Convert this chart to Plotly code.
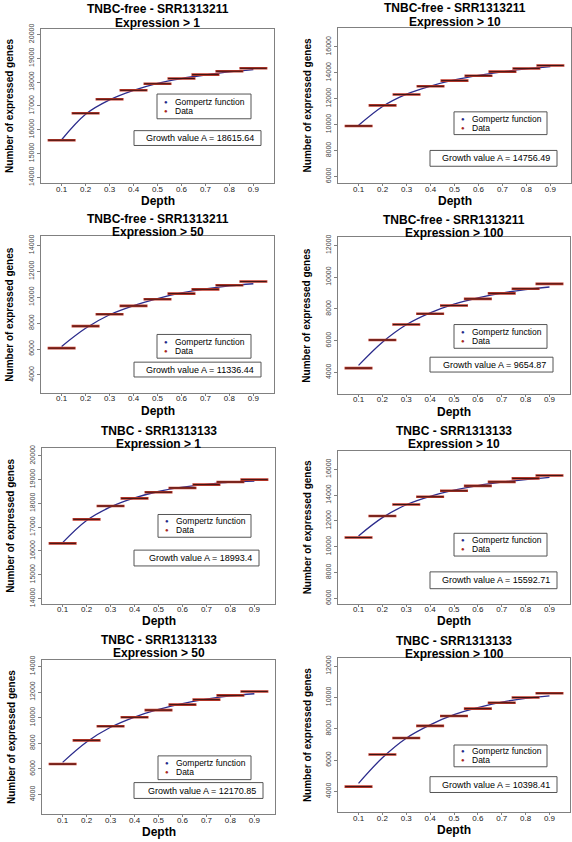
import plotly.graph_objects as go

W, H = 572, 842

depth = [0.1, 0.2, 0.3, 0.4, 0.5, 0.6, 0.7, 0.8, 0.9]
depth_labels = ["0.1", "0.2", "0.3", "0.4", "0.5", "0.6", "0.7", "0.8", "0.9"]

sample_titles = ["TNBC-free - SRR1313211", "TNBC-free - SRR1313211",
                 "TNBC-free - SRR1313211", "TNBC-free - SRR1313211",
                 "TNBC - SRR1313133", "TNBC - SRR1313133",
                 "TNBC - SRR1313133", "TNBC - SRR1313133"]
expr_titles = ["Expression > 1", "Expression > 10", "Expression > 50", "Expression > 100",
               "Expression > 1", "Expression > 10", "Expression > 50", "Expression > 100"]
growth_A = ["18615.64", "14756.49", "11336.44", "9654.87",
            "18993.4", "15592.71", "12170.85", "10398.41"]

data_p1 = [15560, 16690, 17280, 17655, 17930, 18150, 18315, 18455, 18580]
fit_p1 = [15580, 16650, 17250, 17650, 17950, 18150, 18300, 18430, 18525]
data_p2 = [9900, 11490, 12330, 12960, 13400, 13780, 14090, 14340, 14570]
fit_p2 = [9950, 11400, 12350, 12980, 13450, 13800, 14080, 14300, 14480]
data_p3 = [6070, 7770, 8690, 9330, 9850, 10280, 10610, 10920, 11210]
fit_p3 = [6200, 7600, 8650, 9350, 9900, 10330, 10650, 10880, 11040]
data_p4 = [4270, 6040, 7020, 7690, 8210, 8630, 8980, 9270, 9580]
fit_p4 = [4440, 5900, 7000, 7750, 8300, 8700, 9000, 9220, 9380]
data_p5 = [16320, 17330, 17890, 18210, 18470, 18650, 18790, 18900, 19000]
fit_p5 = [16350, 17280, 17850, 18230, 18500, 18680, 18800, 18890, 18935]
data_p6 = [10710, 12380, 13270, 13870, 14330, 14710, 15020, 15290, 15520]
fit_p6 = [10840, 12250, 13250, 13900, 14380, 14740, 15000, 15200, 15365]
data_p7 = [6380, 8230, 9330, 10030, 10590, 11020, 11410, 11740, 12050]
fit_p7 = [6510, 8100, 9250, 10050, 10650, 11100, 11450, 11700, 11870]
data_p8 = [4310, 6360, 7410, 8190, 8820, 9290, 9665, 10000, 10270]
fit_p8 = [4520, 6150, 7400, 8250, 8900, 9350, 9700, 9950, 10105]

data_all = [data_p1, data_p2, data_p3, data_p4, data_p5, data_p6, data_p7, data_p8]
fit_all = [fit_p1, fit_p2, fit_p3, fit_p4, fit_p5, fit_p6, fit_p7, fit_p8]

ytick_sets = [
    [14000, 15000, 16000, 17000, 18000, 19000, 20000],
    [6000, 8000, 10000, 12000, 14000, 16000],
    [4000, 6000, 8000, 10000, 12000, 14000],
    [4000, 6000, 8000, 10000, 12000],
    [14000, 15000, 16000, 17000, 18000, 19000, 20000],
    [6000, 8000, 10000, 12000, 14000, 16000],
    [4000, 6000, 8000, 10000, 12000, 14000],
    [4000, 6000, 8000, 10000, 12000],
]

# ---- layout (pixels) ----
yranges = [[13760, 20240], [5490, 17480], [2620, 14690], [2650, 12500],
           [13790, 20320], [5600, 17400], [2460, 14510], [2670, 12525]]
boxes = [  # x0, x1, y0(top), y1(bottom)
    (41, 274, 24, 180), (338, 571, 23, 180),
    (41, 274, 234, 392), (338, 570, 235, 393),
    (42, 275, 448, 605), (338, 570, 451, 605),
    (42, 275, 662, 818), (338, 570, 660, 816),
]
legend_boxes = [
    (157, 251, 90, 115), (454, 547, 108, 131),
    (157, 251, 333, 357), (454, 547, 323, 347),
    (158, 251, 515, 538), (454, 547, 534, 557),
    (158, 251, 759, 783), (454, 547, 748, 770),
]
growth_boxes = [
    (134, 261, 127, 142), (430, 557, 147, 163),
    (134, 261, 361, 376), (430, 553, 356, 371),
    (134, 259, 551, 567), (430, 557, 573, 590),
    (134, 263, 786, 802), (430, 557, 780, 796),
]
title_ys = [(5, 17), (4, 16), (217, 229), (218, 230),
            (431, 443), (431, 443), (642, 654), (643, 655)]

CURVE = "#2c2c8c"
RED = "#c0392b"
BOXC = "#808080"
FONT = "Liberation Sans"

def px(x):
    return x / W

def py(y):
    return 1 - y / H

fig = go.Figure()
annotations = []
shapes = []

for i in range(8):
    n = i + 1
    xa = "x" if n == 1 else f"x{n}"
    ya = "y" if n == 1 else f"y{n}"
    x0, x1, y0, y1 = boxes[i]

    fig.add_trace(go.Scatter(x=depth, y=fit_all[i], mode="lines",
                             line=dict(color=CURVE, width=1.3, shape="spline"),
                             xaxis=xa, yaxis=ya, showlegend=False, hoverinfo="skip"))
    fig.add_trace(go.Scatter(x=depth, y=data_all[i], mode="markers",
                             marker=dict(symbol="line-ew", size=20,
                                         line=dict(color=RED, width=2.6)),
                             xaxis=xa, yaxis=ya, showlegend=False))
    fig.add_trace(go.Scatter(x=depth, y=data_all[i], mode="markers",
                             marker=dict(symbol="line-ew", size=19,
                                         line=dict(color="#2a1010", width=0.9)),
                             xaxis=xa, yaxis=ya, showlegend=False))

    fig.layout[f"xaxis{'' if n == 1 else n}"] = dict(
        domain=[px(x0), px(x1)], anchor=ya, range=[0.014, 0.986],
        tickvals=depth, ticktext=depth_labels, ticks="outside", ticklen=2,
        ticklabelstandoff=-4,
        tickcolor=BOXC, showline=True, mirror=True, linecolor=BOXC, linewidth=1,
        showgrid=False, zeroline=False,
        tickfont=dict(family=FONT, size=8, color="#222"))
    fig.layout[f"yaxis{'' if n == 1 else n}"] = dict(
        domain=[py(y1), py(y0)], anchor=xa, range=yranges[i],
        tickvals=ytick_sets[i], ticktext=[str(v) for v in ytick_sets[i]],
        tickangle=-90, ticks="outside", ticklen=3, tickcolor=BOXC,
        showline=True, mirror=True, linecolor=BOXC, linewidth=1,
        showgrid=False, zeroline=False,
        tickfont=dict(family=FONT, size=7, color="#444"))

    cx = (x0 + x1) / 2
    ty1, ty2 = title_ys[i]
    annotations.append(dict(text=f"<b>{sample_titles[i]}</b>", x=px(cx), y=py(ty1 - 0.5),
                            xref="paper", yref="paper", showarrow=False,
                            font=dict(family=FONT, size=12, color="#000"),
                            xanchor="center", yanchor="middle"))
    annotations.append(dict(text=f"<b>{expr_titles[i]}</b>", x=px(cx), y=py(ty2 + 0.8),
                            xref="paper", yref="paper", showarrow=False,
                            font=dict(family=FONT, size=12, color="#000"),
                            xanchor="center", yanchor="middle"))
    # axis titles
    annotations.append(dict(text="<b>Depth</b>", x=px(cx), y=py(y1 + 18),
                            xref="paper", yref="paper", showarrow=False,
                            font=dict(family=FONT, size=12, color="#000"),
                            xanchor="center", yanchor="middle"))
    annotations.append(dict(text="<b>Number of expressed genes</b>", x=px(x0 - 31),
                            y=py((y0 + y1) / 2), xref="paper", yref="paper",
                            showarrow=False, textangle=-90,
                            font=dict(family=FONT, size=10, color="#000"),
                            xanchor="center", yanchor="middle"))
    # legend box
    lx0, lx1, ly0, ly1 = legend_boxes[i]
    shapes.append(dict(type="rect", xref="paper", yref="paper",
                       x0=px(lx0), x1=px(lx1), y0=py(ly1), y1=py(ly0),
                       line=dict(color="#555", width=1), fillcolor="white"))
    lm = (ly0 + ly1) / 2
    for k, (lab, col) in enumerate([("Gompertz function", "#1f2a8a"), ("Data", "#a8281e")]):
        yy = lm - 4.5 + 9 * k
        annotations.append(dict(text="●", x=px(lx0 + 9), y=py(yy), xref="paper", yref="paper",
                                showarrow=False, font=dict(family=FONT, size=6, color=col),
                                xanchor="center", yanchor="middle"))
        annotations.append(dict(text=lab, x=px(lx0 + 16), y=py(yy), xref="paper", yref="paper",
                                showarrow=False, font=dict(family=FONT, size=8.5, color="#000"),
                                xanchor="left", yanchor="middle"))
    # growth box
    gx0, gx1, gy0, gy1 = growth_boxes[i]
    shapes.append(dict(type="rect", xref="paper", yref="paper",
                       x0=px(gx0), x1=px(gx1), y0=py(gy1), y1=py(gy0),
                       line=dict(color="#555", width=1), fillcolor="white"))
    annotations.append(dict(text=f"Growth value A = {growth_A[i]}", x=px(gx1 - 5),
                            y=py((gy0 + gy1) / 2), xref="paper", yref="paper",
                            showarrow=False, font=dict(family=FONT, size=9, color="#000"),
                            xanchor="right", yanchor="middle"))

fig.update_layout(width=W, height=H, margin=dict(l=0, r=0, t=0, b=0),
                  paper_bgcolor="white", plot_bgcolor="white",
                  annotations=annotations, shapes=shapes, showlegend=False)

fig.write_html("out.html")
